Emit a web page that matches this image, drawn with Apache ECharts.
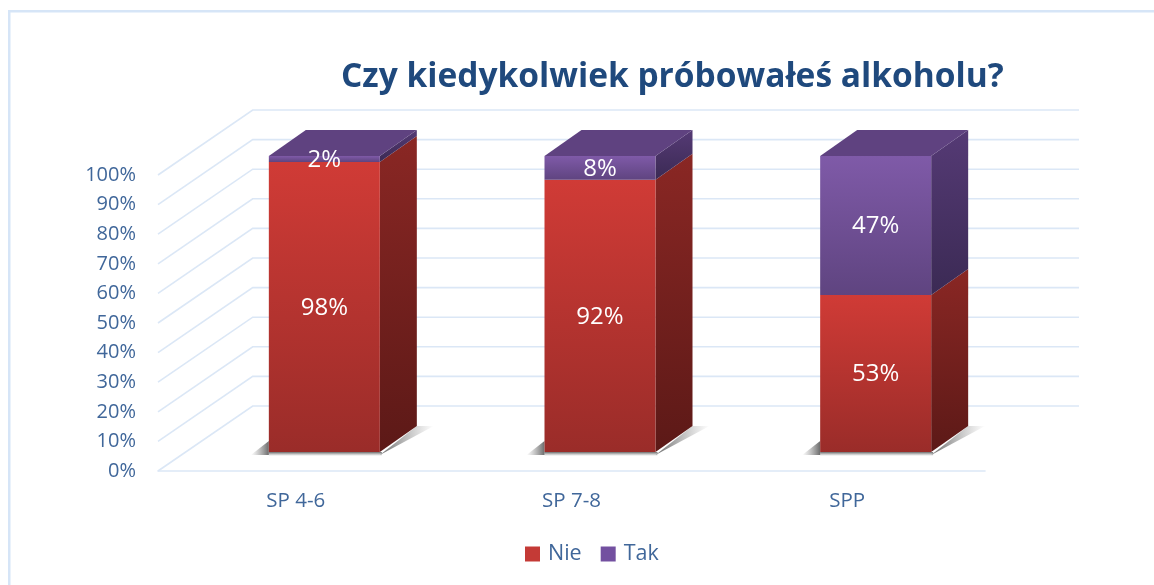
<!DOCTYPE html>
<html>
<head>
<meta charset="utf-8">
<style>
  html, body { margin: 0; padding: 0; background: #fff; }
  #chart { width: 1154px; height: 585px; }
</style>
<script src="https://cdn.jsdelivr.net/npm/echarts@6/dist/echarts.min.js"></script>
</head>
<body>
<div id="chart"></div>
<script>
const categories = ['SP 4-6', 'SP 7-8', 'SPP']
const nie = [98, 92, 53]
const tak = [2, 8, 47]
const tickValues = [0, 10, 20, 30, 40, 50, 60, 70, 80, 90, 100]

const fontFamily = '"Open Sans", sans-serif'
const gridColor = '#dbe7f6'
const textColor = '#40679a'

// fake 3d: wall sits this far behind the axis plane, bars stand on the floor between them
const wallDx = 94.7
const wallDy = -65
const wallRight = 1079
const barDx = 28.5
const barDy = -19
const depthDx = 37
const depthDy = -26
const barWidth = 111

const vGrad = (top, bottom) => ({
  type: 'linear', x: 0, y: 0, x2: 0, y2: 1,
  colorStops: [{ offset: 0, color: top }, { offset: 1, color: bottom }]
})
const hGrad = (left, right) => ({
  type: 'linear', x: 0, y: 0, x2: 1, y2: 0,
  colorStops: [{ offset: 0, color: left }, { offset: 1, color: right }]
})

const renderGrid = (params, api) => {
  const y = api.coord([0, api.value(1)])[1]
  const x = params.coordSys.x
  return {
    type: 'polyline',
    shape: { points: [[x, y], [x + wallDx, y + wallDy], [wallRight, y + wallDy]] },
    style: { stroke: gridColor, lineWidth: 1.6, fill: null },
    silent: true
  }
}

// soft floor shadow: left wedge, strip under the front, wedge along the right side
const renderShadow = (params, api) => {
  const p = api.coord([api.value(0), 0])
  const l = p[0] + barDx - barWidth / 2
  const r = l + barWidth
  const b = p[1] + barDy
  const dark = 'rgba(70,70,70,0.8)'
  const clear = 'rgba(120,120,120,0)'
  return {
    type: 'group',
    silent: true,
    children: [
      {
        type: 'polygon',
        shape: { points: [[l - 18, b + 3], [l, b - 11], [l, b + 3]] },
        style: { fill: hGrad(clear, dark) }
      },
      {
        type: 'rect',
        shape: { x: l, y: b, width: barWidth + 2, height: 4 },
        style: { fill: vGrad(dark, clear) }
      },
      {
        type: 'polygon',
        shape: { points: [[r, b + 3], [r + depthDx, b + depthDy], [r + depthDx + 17, b + depthDy]] },
        style: { fill: hGrad(dark, clear) }
      }
    ]
  }
}

const makeBarRenderer = (colors, withTop) => (params, api) => {
  const i = api.value(0)
  const low = api.coord([i, api.value(1)])
  const high = api.coord([i, api.value(2)])
  const l = low[0] + barDx - barWidth / 2
  const r = l + barWidth
  const b = low[1] + barDy
  const t = high[1] + barDy
  const children = [
    {
      type: 'polygon',
      shape: { points: [[r, b], [r + depthDx, b + depthDy], [r + depthDx, t + depthDy], [r, t]] },
      style: { fill: vGrad(colors.sideTop, colors.sideBottom) }
    },
    {
      type: 'rect',
      shape: { x: l, y: t, width: barWidth, height: b - t },
      style: { fill: vGrad(colors.frontTop, colors.frontBottom) }
    }
  ]
  if (withTop) {
    children.push({
      type: 'polygon',
      shape: { points: [[l, t], [l + depthDx, t + depthDy], [r + depthDx, t + depthDy], [r, t]] },
      style: { fill: colors.top }
    })
  }
  children.push({
    type: 'text',
    z2: 10,
    style: {
      x: (l + r) / 2,
      y: (t + b) / 2 + 1,
      text: api.value(3) + '%',
      fill: '#fff',
      font: '24px ' + fontFamily,
      align: 'center',
      verticalAlign: 'middle'
    }
  })
  return { type: 'group', children }
}

const redColors = {
  frontTop: '#d03b36', frontBottom: '#9a2c29',
  sideTop: '#8a2724', sideBottom: '#5c1917'
}
const purpleColors = {
  frontTop: '#7f5aa8', frontBottom: '#5f4480',
  sideTop: '#553a75', sideBottom: '#3b2a54',
  top: '#5f4280'
}

const chart = echarts.init(document.getElementById('chart'))
chart.setOption({
  animation: false,
  backgroundColor: '#fff',
  textStyle: { fontFamily },
  title: {
    text: 'Czy kiedykolwiek próbowałeś alkoholu?',
    left: 336,
    top: 55,
    textStyle: { fontFamily, fontSize: 33.5, fontWeight: 'bold', color: '#1f497d' }
  },
  graphic: [
    { type: 'rect', shape: { x: 8, y: 10, width: 1146, height: 2.5 }, style: { fill: '#d6e5f7' }, silent: true },
    { type: 'rect', shape: { x: 8, y: 10, width: 2.5, height: 575 }, style: { fill: '#d6e5f7' }, silent: true }
  ],
  legend: {
    data: ['Nie', 'Tak'],
    left: 525,
    top: 543,
    padding: 0,
    itemWidth: 15,
    itemHeight: 15,
    itemGap: 19,
    icon: 'rect',
    selectedMode: false,
    textStyle: { fontFamily, fontSize: 21.5, color: textColor, padding: [0, 0, 0, 3] }
  },
  grid: { left: 158, top: 175, width: 827, height: 296 },
  xAxis: {
    type: 'category',
    data: categories,
    axisLine: { show: true, lineStyle: { color: gridColor, width: 1.6 } },
    axisTick: { show: false },
    axisLabel: { color: textColor, fontSize: 20.5, margin: 20, fontFamily }
  },
  yAxis: {
    type: 'value',
    min: 0,
    max: 100,
    interval: 10,
    axisLine: { show: false },
    axisTick: { show: false },
    splitLine: { show: false },
    axisLabel: { color: textColor, fontSize: 20, margin: 22, fontFamily, padding: [6, 0, 0, 0], formatter: '{value}%' }
  },
  series: [
    {
      name: 'grid',
      type: 'custom',
      z: 1,
      silent: true,
      clip: false,
      encode: { x: 0, y: 1 },
      data: tickValues.map((v) => [0, v]),
      renderItem: renderGrid
    },
    {
      name: 'shadow',
      type: 'custom',
      z: 2,
      silent: true,
      clip: false,
      encode: { x: 0, y: 1 },
      data: categories.map((c, i) => [i, 0]),
      renderItem: renderShadow
    },
    {
      name: 'Nie',
      type: 'custom',
      z: 3,
      clip: false,
      itemStyle: { color: '#c43a36' },
      encode: { x: 0, y: 2 },
      data: nie.map((v, i) => [i, 0, v, v]),
      renderItem: makeBarRenderer(redColors, false)
    },
    {
      name: 'Tak',
      type: 'custom',
      z: 4,
      clip: false,
      itemStyle: { color: '#7350a0' },
      encode: { x: 0, y: 2 },
      data: tak.map((v, i) => [i, nie[i], nie[i] + v, v]),
      renderItem: makeBarRenderer(purpleColors, true)
    }
  ]
})
</script>
</body>
</html>
